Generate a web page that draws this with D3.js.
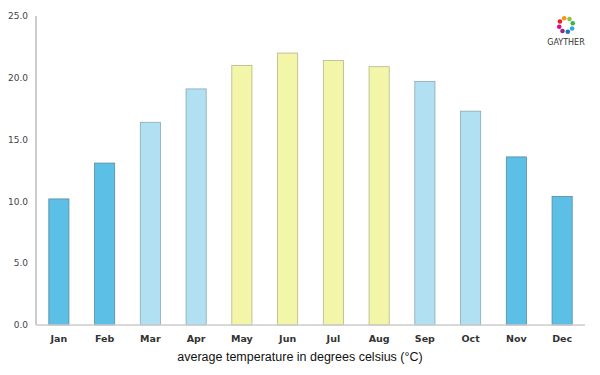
<!DOCTYPE html>
<html>
<head>
<meta charset="utf-8">
<script src="https://cdn.jsdelivr.net/npm/d3@7"></script>
<style>
  body { margin: 0; background: #fff; }
  .tick-label { font-family: "DejaVu Sans", sans-serif; font-size: 9px; fill: #444; }
  .month-label { font-family: "DejaVu Sans", sans-serif; font-size: 9.5px; font-weight: bold; fill: #333; }
</style>
</head>
<body>
<div id="chart"></div>
<script>
const months = ["Jan", "Feb", "Mar", "Apr", "May", "Jun", "Jul", "Aug", "Sep", "Oct", "Nov", "Dec"];
const temps = [10.2, 13.1, 16.4, 19.1, 21.0, 22.0, 21.4, 20.9, 19.7, 17.3, 13.6, 10.4];
const seasons = ["cold", "cold", "mild", "mild", "warm", "warm", "warm", "warm", "mild", "mild", "cold", "cold"];
const yTicks = [0, 5, 10, 15, 20, 25];

const width = 600;
const height = 375;
const margin = { top: 16, right: 15, bottom: 50, left: 36 };

const fillColor = { cold: "#5bbfe6", mild: "#b1e0f2", warm: "#f3f5a9" };
const strokeColor = { cold: "#5a8aa0", mild: "#8aa8b3", warm: "#b5b78a" };

const svg = d3.select("#chart")
  .append("svg")
  .attr("width", width)
  .attr("height", height);

// scales
const xScale = d3.scaleBand()
  .domain(months)
  .range([margin.left, width - margin.right])
  .paddingInner(0.56)
  .paddingOuter(0.28);

const yScale = d3.scaleLinear()
  .domain([0, 25])
  .range([height - margin.bottom, margin.top]);

// bars
svg.selectAll(".bar")
  .data(months)
  .enter()
  .append("rect")
  .attr("class", "bar")
  .attr("x", (d) => xScale(d))
  .attr("y", (d, i) => yScale(temps[i]))
  .attr("width", xScale.bandwidth())
  .attr("height", (d, i) => yScale(0) - yScale(temps[i]))
  .attr("fill", (d, i) => fillColor[seasons[i]])
  .attr("stroke", (d, i) => strokeColor[seasons[i]])
  .attr("stroke-width", 0.8);

// y axis line
svg.append("line")
  .attr("x1", margin.left).attr("x2", margin.left)
  .attr("y1", yScale(25)).attr("y2", yScale(0))
  .attr("stroke", "#ccc")
  .attr("stroke-width", 2);

// x axis line
svg.append("line")
  .attr("x1", margin.left).attr("x2", width - margin.right)
  .attr("y1", yScale(0)).attr("y2", yScale(0))
  .attr("stroke", "#ccc")
  .attr("stroke-width", 1.5);

// y tick labels
svg.selectAll(".tick-label")
  .data(yTicks)
  .enter()
  .append("text")
  .attr("class", "tick-label")
  .attr("x", margin.left - 8)
  .attr("y", (d) => yScale(d))
  .attr("dy", "0.35em")
  .attr("text-anchor", "end")
  .text((d) => d.toFixed(1));

// month labels
svg.selectAll(".month-label")
  .data(months)
  .enter()
  .append("text")
  .attr("class", "month-label")
  .attr("x", (d) => xScale(d) + xScale.bandwidth() / 2)
  .attr("y", yScale(0) + 17)
  .attr("text-anchor", "middle")
  .text((d) => d);

// x axis title
svg.append("text")
  .attr("x", 300)
  .attr("y", 361)
  .attr("text-anchor", "middle")
  .style("font-family", "Liberation Sans, Arial, sans-serif")
  .style("font-size", "12.5px")
  .style("fill", "#111")
  .text("average temperature in degrees celsius (°C)");

// logo
const logo = svg.append("g").attr("transform", "translate(566,25)");
const logoColors = ["#8cc63f", "#39b54a", "#29abe2", "#1b75bc", "#92278f", "#ec008c", "#ed1c24", "#f7931e"];
logoColors.forEach((c, i) => {
  const a = (i / logoColors.length) * 2 * Math.PI - Math.PI / 3;
  logo.append("circle")
    .attr("cx", 7 * Math.cos(a))
    .attr("cy", 7 * Math.sin(a))
    .attr("r", 2.3)
    .attr("fill", c);
});
svg.append("text")
  .attr("x", 566)
  .attr("y", 45)
  .attr("text-anchor", "middle")
  .style("font-family", "DejaVu Sans, sans-serif")
  .style("font-size", "8px")
  .style("fill", "#333")
  .text("GAYTHER");
</script>
</body>
</html>
